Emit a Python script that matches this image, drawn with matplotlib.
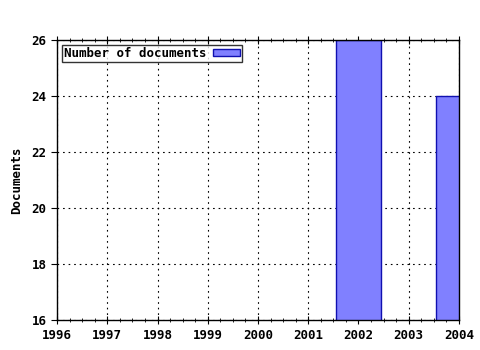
import matplotlib
matplotlib.use("Agg")
import matplotlib.pyplot as plt
from matplotlib.ticker import MultipleLocator

years = [2002, 2004]
documents = [26, 24]
year_ticks = list(range(1996, 2005))
doc_ticks = [16, 18, 20, 22, 24, 26]

plt.rcParams['font.family'] = 'DejaVu Sans Mono'
plt.rcParams['font.weight'] = 'bold'
plt.rcParams['axes.labelweight'] = 'bold'

fig = plt.figure(figsize=(4.8, 3.5), dpi=100)
ax = fig.add_axes([0.119, 0.0857, 0.837, 0.8])

ax.bar(years, documents, width=0.9, color='#8080ff', edgecolor='#1010b0',
       linewidth=1, label='Number of documents', zorder=2)

ax.set_xlim(1996, 2004)
ax.set_ylim(16, 26)
ax.set_xticks(year_ticks)
ax.set_yticks(doc_ticks)
ax.xaxis.set_minor_locator(MultipleLocator(0.25))
ax.tick_params(axis='x', which='both', top=True, direction='inout', labelsize=9)
ax.tick_params(axis='x', which='major', length=6)
ax.tick_params(axis='x', which='minor', length=3)
ax.tick_params(axis='y', direction='out', length=4, labelsize=9)
for lbl in ax.get_xticklabels() + ax.get_yticklabels():
    lbl.set_fontweight('bold')
ax.grid(True, which='major', color='black', linestyle=(0, (1.5, 3.5)), linewidth=0.8, zorder=1)
ax.set_axisbelow(True)
for s in ax.spines.values():
    s.set_linewidth(1)
ax.set_ylabel('Documents', fontsize=9, fontweight='bold', labelpad=6)

leg = ax.legend(loc='upper left', markerfirst=False, fontsize=9, frameon=True,
                fancybox=False, borderpad=0.15, handlelength=2.2, handleheight=0.5,
                borderaxespad=0.4, handletextpad=0.5)
leg.get_frame().set_edgecolor('black')
leg.get_frame().set_linewidth(1)

fig.savefig('out.png', dpi=100)
